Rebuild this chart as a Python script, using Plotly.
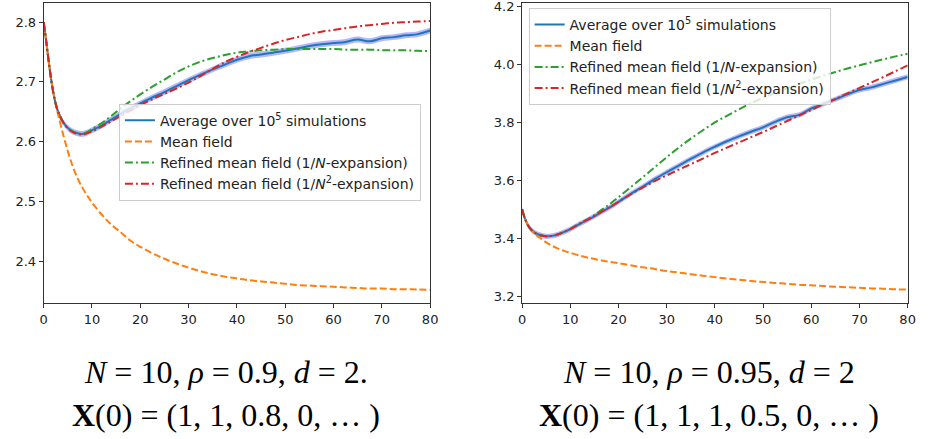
import plotly.graph_objects as go

# ---------------- data ----------------
t = [0, 0.5, 1, 1.5, 2, 2.5, 3, 4, 5, 6, 7, 8, 9, 10, 12, 14, 16, 18, 20, 22.5, 25, 27.5,
     30, 32.5, 35, 37.5, 40, 42.5, 45, 47.5, 50, 52.5, 55, 57.5, 60, 62.5, 65, 67.5, 70,
     72.5, 75, 77.5, 80]

# left panel: N=10, rho=0.9, d=2
left_sim = [2.800, 2.770, 2.737, 2.707, 2.682, 2.663, 2.650, 2.633, 2.623, 2.617, 2.614, 2.613,
            2.615, 2.619, 2.627, 2.637, 2.647, 2.656, 2.664, 2.674, 2.683, 2.693, 2.703, 2.712,
            2.721, 2.729, 2.737, 2.743, 2.746, 2.749, 2.752, 2.756, 2.760, 2.763, 2.765, 2.767,
            2.771, 2.768, 2.773, 2.775, 2.778, 2.780, 2.786]
left_mf = [2.800, 2.770, 2.737, 2.707, 2.682, 2.662, 2.645, 2.613, 2.584, 2.559, 2.539, 2.523,
           2.510, 2.498, 2.478, 2.461, 2.448, 2.434, 2.424, 2.413, 2.404, 2.396, 2.389, 2.383,
           2.378, 2.374, 2.371, 2.368, 2.366, 2.364, 2.362, 2.360, 2.359, 2.358, 2.357, 2.356,
           2.355, 2.354, 2.354, 2.353, 2.353, 2.3525, 2.352]
left_rmf1 = [2.800, 2.770, 2.737, 2.707, 2.682, 2.663, 2.650, 2.633, 2.623, 2.617, 2.614, 2.613,
             2.616, 2.621, 2.631, 2.643, 2.656, 2.668, 2.679, 2.692, 2.704, 2.716, 2.726, 2.734,
             2.740, 2.745, 2.749, 2.751, 2.753, 2.754, 2.755, 2.755, 2.755, 2.755, 2.755, 2.754,
             2.754, 2.754, 2.753, 2.753, 2.753, 2.752, 2.752]
left_rmf2 = [2.800, 2.770, 2.737, 2.707, 2.682, 2.663, 2.650, 2.633, 2.622, 2.616, 2.613, 2.612,
             2.614, 2.617, 2.625, 2.634, 2.643, 2.652, 2.661, 2.671, 2.680, 2.689, 2.699, 2.710,
             2.722, 2.733, 2.742, 2.750, 2.757, 2.764, 2.770, 2.775, 2.780, 2.784, 2.787, 2.790,
             2.793, 2.795, 2.797, 2.799, 2.800, 2.801, 2.802]
left_band = 0.005

# right panel: N=10, rho=0.95, d=2
right_sim = [3.500, 3.472, 3.452, 3.438, 3.428, 3.421, 3.416, 3.410, 3.407, 3.408, 3.411, 3.417,
             3.424, 3.432, 3.450, 3.467, 3.486, 3.505, 3.526, 3.553, 3.578, 3.604, 3.628, 3.651,
             3.674, 3.696, 3.716, 3.735, 3.752, 3.768, 3.783, 3.802, 3.818, 3.826, 3.848, 3.864,
             3.880, 3.897, 3.912, 3.921, 3.933, 3.945, 3.957]
right_mf = [3.500, 3.472, 3.452, 3.438, 3.427, 3.418, 3.410, 3.398, 3.386, 3.376, 3.368, 3.361,
            3.355, 3.350, 3.340, 3.332, 3.325, 3.319, 3.314, 3.307, 3.300, 3.294, 3.287, 3.282,
            3.276, 3.271, 3.266, 3.261, 3.257, 3.253, 3.249, 3.246, 3.243, 3.240, 3.238, 3.235,
            3.233, 3.231, 3.229, 3.227, 3.226, 3.224, 3.223]
right_rmf1 = [3.500, 3.472, 3.452, 3.438, 3.428, 3.421, 3.416, 3.410, 3.407, 3.408, 3.411, 3.417,
              3.424, 3.432, 3.452, 3.470, 3.492, 3.516, 3.542, 3.576, 3.610, 3.645, 3.680, 3.713,
              3.744, 3.773, 3.800, 3.823, 3.845, 3.866, 3.885, 3.902, 3.918, 3.933, 3.948, 3.961,
              3.974, 3.986, 3.997, 4.008, 4.018, 4.028, 4.037]
right_rmf2 = [3.500, 3.472, 3.452, 3.438, 3.428, 3.421, 3.416, 3.410, 3.407, 3.408, 3.411, 3.417,
              3.424, 3.432, 3.451, 3.468, 3.487, 3.506, 3.526, 3.552, 3.575, 3.597, 3.617, 3.637,
              3.656, 3.675, 3.695, 3.713, 3.731, 3.749, 3.767, 3.786, 3.805, 3.824, 3.843, 3.862,
              3.881, 3.900, 3.919, 3.938, 3.957, 3.977, 3.997]
right_band = 0.009

x_ticks = [0, 10, 20, 30, 40, 50, 60, 70, 80]
left_yticks = [2.4, 2.5, 2.6, 2.7, 2.8]
right_yticks = [3.2, 3.4, 3.6, 3.8, 4.0, 4.2]

labels = ["Average over 10<sup>5</sup> simulations", "Mean field",
          "Refined mean field (1/<i>N</i>-expansion)",
          "Refined mean field (1/<i>N</i><sup>2</sup>-expansion)"]
captions_left = ["<i>N</i> = 10, <i>ρ</i> = 0.9, <i>d</i> = 2.",
                 "<b>X</b>(0) = (1, 1, 0.8, 0, … )"]
captions_right = ["<i>N</i> = 10, <i>ρ</i> = 0.95, <i>d</i> = 2",
                  "<b>X</b>(0) = (1, 1, 1, 0.5, 0, … )"]

# ---------------- figure ----------------
C_BLUE, C_ORANGE, C_GREEN, C_RED = "#1f77b4", "#ff7f0e", "#2ca02c", "#d62728"
BAND = "rgba(110,110,255,0.5)"
fig = go.Figure()


def add_panel(xa, ya, leg, sim, mf, r1, r2, band):
    up = [v + band for v in sim]
    lo = [v - band for v in sim]
    fig.add_trace(go.Scatter(x=t, y=up, xaxis=xa, yaxis=ya, mode="lines", line=dict(width=0, shape="spline"),
                             showlegend=False, hoverinfo="skip"))
    fig.add_trace(go.Scatter(x=t, y=lo, xaxis=xa, yaxis=ya, mode="lines", line=dict(width=0, shape="spline"),
                             fill="tonexty", fillcolor=BAND, showlegend=False, hoverinfo="skip"))
    fig.add_trace(go.Scatter(x=t, y=sim, xaxis=xa, yaxis=ya, mode="lines", name=labels[0], legend=leg,
                             line=dict(color=C_BLUE, width=2, shape="spline")))
    fig.add_trace(go.Scatter(x=t, y=mf, xaxis=xa, yaxis=ya, mode="lines", name=labels[1], legend=leg,
                             line=dict(color=C_ORANGE, width=2, dash="7px,3px", shape="spline")))
    fig.add_trace(go.Scatter(x=t, y=r1, xaxis=xa, yaxis=ya, mode="lines", name=labels[2], legend=leg,
                             line=dict(color=C_GREEN, width=2, dash="8px,3px,2px,3px", shape="spline")))
    fig.add_trace(go.Scatter(x=t, y=r2, xaxis=xa, yaxis=ya, mode="lines", name=labels[3], legend=leg,
                             line=dict(color=C_RED, width=2, dash="8px,3px,2px,3px", shape="spline")))


add_panel("x", "y", "legend", left_sim, left_mf, left_rmf1, left_rmf2, left_band)
add_panel("x2", "y2", "legend2", right_sim, right_mf, right_rmf1, right_rmf2, right_band)

ax_common = dict(showline=True, mirror=True, linecolor="#333", linewidth=1, ticks="outside", ticklen=4,
                 tickwidth=1, tickcolor="#333", showgrid=False, zeroline=False, automargin=False,
                 ticklabeloverflow="allow",
                 tickfont=dict(family="DejaVu Sans", size=13, color="#222"))

leg_common = dict(xanchor="left", yanchor="top", bgcolor="rgba(255,255,255,0.8)",
                  bordercolor="#cccccc", borderwidth=1, itemwidth=30, traceorder="normal",
                  font=dict(family="DejaVu Sans", size=14, color="#222"))

ydom = [0.31, 0.993]
fig.update_layout(
    width=929, height=439,
    margin=dict(l=0, r=0, t=0, b=0),
    paper_bgcolor="white", plot_bgcolor="white",
    xaxis=dict(domain=[0.047, 0.463], range=[0, 80], tickvals=x_ticks, anchor="y", **ax_common),
    yaxis=dict(domain=ydom, range=[2.33, 2.832], tickvals=left_yticks, tickformat=".1f", anchor="x", **ax_common),
    xaxis2=dict(domain=[0.562, 0.977], range=[0, 80], tickvals=x_ticks, anchor="y2", **ax_common),
    yaxis2=dict(domain=ydom, range=[3.177, 4.212], tickvals=right_yticks, tickformat=".1f", anchor="x2", **ax_common),
    legend=dict(x=0.128, y=0.764, **leg_common),
    legend2=dict(x=0.569, y=0.982, **leg_common),
    showlegend=True,
)

cap_font = dict(family="Liberation Serif", size=32, color="black")
for i, yy in enumerate([0.153, 0.055]):
    fig.add_annotation(text=captions_left[i], x=226 / 929, y=yy, xref="paper", yref="paper",
                       xanchor="center", yanchor="middle", showarrow=False, font=cap_font)
    fig.add_annotation(text=captions_right[i], x=709 / 929, y=yy, xref="paper", yref="paper",
                       xanchor="center", yanchor="middle", showarrow=False, font=cap_font)

fig.write_html("out.html", config={"displayModeBar": False},
               post_script="document.body.style.margin='0px';")
